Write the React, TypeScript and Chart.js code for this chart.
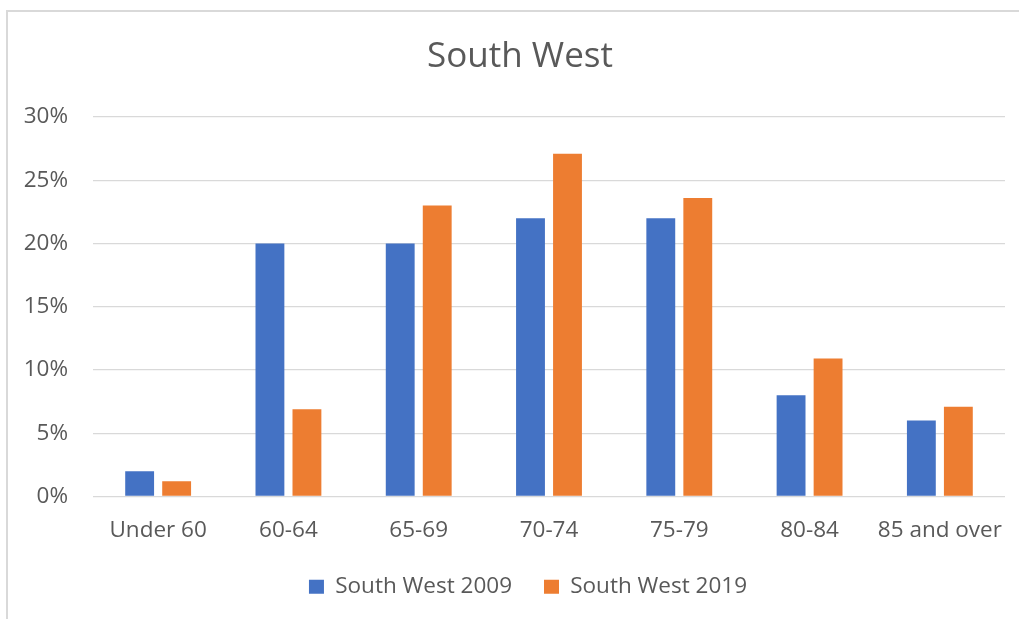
import React, { useEffect, useRef } from "react";
import { Chart, registerables } from "chart.js";

Chart.register(...registerables);

// Age bands and the share of people in each band
const categories = ["Under 60", "60-64", "65-69", "70-74", "75-79", "80-84", "85 and over"];
const southWest2009 = [2, 20, 20, 22, 22, 8, 6];
const southWest2019 = [1.2, 6.9, 23, 27.1, 23.6, 10.9, 7.1];
const yTickValues = [0, 5, 10, 15, 20, 25, 30];

const FONT = "'Open Sans', 'Noto Sans', sans-serif";
const TEXT = "#595959";
const GRID = "#D9D9D9";
const BLUE = "#4472C4";
const ORANGE = "#ED7D31";

const W = 1019;
const H = 619;

// White background plus the thin outer frame along the left and top edges
const framePlugin = {
  id: "frame",
  beforeDraw(chart: any) {
    const { ctx, width, height } = chart;
    ctx.save();
    ctx.fillStyle = "#ffffff";
    ctx.fillRect(0, 0, width, height);
    ctx.strokeStyle = GRID;
    ctx.lineWidth = 2;
    ctx.beginPath();
    ctx.moveTo(7, height);
    ctx.lineTo(7, 11);
    ctx.lineTo(width, 11);
    ctx.stroke();
    ctx.restore();
  },
};

// The frame is wider than the visible canvas, so the title and legend sit a bit
// right of the plot's centre; nudge both blocks accordingly.
const TITLE_SHIFT = 17.5;
const LEGEND_SHIFT = 25.5;
const shiftPlugin = {
  id: "shiftBlocks",
  afterLayout(chart: any) {
    const t = chart.titleBlock;
    if (t) {
      t.left += TITLE_SHIFT;
      t.right += TITLE_SHIFT;
    }
    const l = chart.legend;
    if (l) {
      l.left += LEGEND_SHIFT;
      l.right += LEGEND_SHIFT;
    }
  },
};

export default function App() {
  const canvasRef = useRef<HTMLCanvasElement | null>(null);

  useEffect(() => {
    const canvas = canvasRef.current;
    if (!canvas) return;
    const chart = new Chart(canvas, {
      type: "bar",
      data: {
        labels: categories,
        datasets: [
          {
            label: "South West 2009",
            data: southWest2009,
            backgroundColor: BLUE,
            categoryPercentage: 0.568,
            barPercentage: 0.78,
          },
          {
            label: "South West 2019",
            data: southWest2019,
            backgroundColor: ORANGE,
            categoryPercentage: 0.568,
            barPercentage: 0.78,
          },
        ],
      },
      options: {
        responsive: false,
        animation: false,
        devicePixelRatio: 1,
        layout: { padding: { left: 0, right: 14, top: 14, bottom: 11 } },
        plugins: {
          title: {
            display: true,
            text: "South West",
            color: TEXT,
            font: { family: FONT, size: 35, weight: "normal" },
            padding: { top: 22, bottom: 39 },
          },
          legend: {
            position: "bottom",
            labels: {
              color: TEXT,
              font: { family: FONT, size: 22.5 },
              boxWidth: 15,
              boxHeight: 14,
              padding: 32,
            },
          },
          tooltip: { enabled: false },
        },
        scales: {
          x: {
            // invisible tick marks give the labels their vertical offset
            grid: {
              display: true,
              drawOnChartArea: false,
              drawTicks: true,
              tickLength: 16,
              color: "rgba(0,0,0,0)",
            },
            border: { display: false },
            ticks: {
              color: TEXT,
              font: { family: FONT, size: 22.5 },
              padding: 5,
              maxRotation: 0,
              autoSkip: false,
            },
            afterFit(scale: any) {
              scale.height = 47;
            },
          },
          y: {
            min: 0,
            max: 30,
            grid: { color: GRID, lineWidth: 1.3, drawTicks: false },
            border: { display: false },
            afterBuildTicks(scale: any) {
              scale.ticks = yTickValues.map((v) => ({ value: v }));
            },
            ticks: {
              color: TEXT,
              font: { family: FONT, size: 22.5 },
              padding: 25,
              callback: (v: any) => `${v}%`,
            },
            afterFit(scale: any) {
              scale.width = 93;
            },
          },
        },
      },
      plugins: [framePlugin, shiftPlugin],
    });
    return () => chart.destroy();
  }, []);

  return (
    <div style={{ position: "fixed", left: 0, top: 0, width: W, height: H, overflow: "hidden", background: "#fff" }}>
      <canvas ref={canvasRef} width={W} height={H} style={{ display: "block", width: W, height: H }} />
    </div>
  );
}
